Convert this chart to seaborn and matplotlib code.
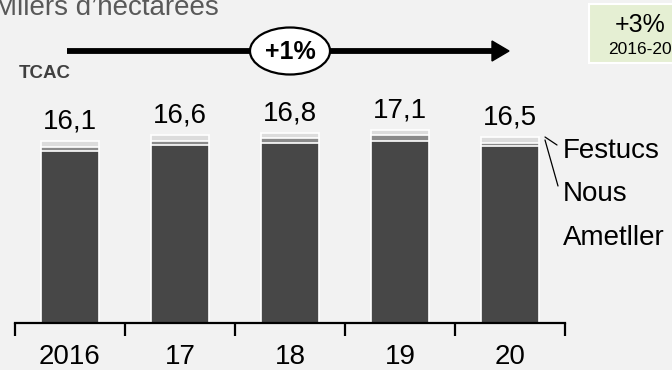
import numpy as np
import pandas as pd
import matplotlib
matplotlib.use("Agg")
import matplotlib.pyplot as plt
from matplotlib.patches import Ellipse, Rectangle, Polygon
from matplotlib.lines import Line2D
import seaborn as sns

# Surface in thousands of hectares, stacked by producer
years = ["2016", "17", "18", "19", "20"]
ametller = [15.2, 15.75, 15.9, 16.1, 15.7]
nous = [0.35, 0.4, 0.45, 0.5, 0.2]
festucs = [0.55, 0.45, 0.45, 0.5, 0.6]
series_names = ["Festucs", "Nous", "Ametller"]
cagr_label = "+1%"
total_change = "+3%"
total_period = "2016-20"

BG = "#f2f2f2"
sns.set_theme(style="white")
plt.rcParams["font.family"] = ["Liberation Sans", "DejaVu Sans"]

W, H = 672, 370
fig = plt.figure(figsize=(W / 100, H / 100), dpi=100, facecolor=BG)

def fx(px):
    return px / W

def fy(py):
    return 1 - py / H

ax = fig.add_axes([fx(15), fy(323), fx(565) - fx(15), fy(0) - fy(323)])
ax.set_facecolor(BG)

df = pd.DataFrame({"year": years, "Ametller": ametller, "Nous": nous, "Festucs": festucs})
df["lvl2"] = df["Ametller"] + df["Nous"]
df["total"] = df["lvl2"] + df["Festucs"]

layers = [("total", "#dcdcdc"), ("lvl2", "#8a8a8a"), ("Ametller", "#474747")]
for col, color in layers:
    sns.barplot(data=df, x="year", y=col, color=color, width=0.53,
                edgecolor="white", linewidth=1.2, saturation=1, ax=ax, zorder=2)

for i, tot in enumerate(df["total"]):
    ax.annotate(f"{tot:.1f}".replace(".", ","), (i, tot), xytext=(0, 9),
                textcoords="offset points", ha="center", va="baseline",
                fontsize=20, color="#000000")

ax.set_xlim(-0.5, 4.5)
ax.set_ylim(0, 323 / 11.3)
for s in ["top", "right", "left"]:
    ax.spines[s].set_visible(False)
ax.spines["bottom"].set_color("black")
ax.spines["bottom"].set_linewidth(1.6)
ax.set_yticks([])
ax.set_xticks(np.arange(-0.5, 5, 1))
ax.set_xticklabels([])
ax.tick_params(axis="x", which="major", direction="out", length=9, width=1.6,
               color="black", bottom=True)
ax.set_xticks(np.arange(len(years)), minor=True)
ax.set_xticklabels(years, minor=True, fontsize=20)
ax.tick_params(axis="x", which="minor", length=0, pad=15, labelcolor="black")
ax.set_xlabel("")
ax.set_ylabel("")

# Series labels with leader lines
fig.text(fx(563), fy(158), series_names[0], fontsize=20, color="black", va="baseline")
fig.text(fx(563), fy(201), series_names[1], fontsize=20, color="black", va="baseline")
fig.text(fx(563), fy(245), series_names[2], fontsize=20, color="black", va="baseline")
fig.add_artist(Line2D([fx(545), fx(557)], [fy(137), fy(145)], color="black", lw=0.9))
fig.add_artist(Line2D([fx(545), fx(558)], [fy(140), fy(186)], color="black", lw=0.9))

# Header
fig.text(fx(-6), fy(8), "Milers d\u2019hectarees", fontsize=20, color="#595959", va="center")
fig.text(fx(19), fy(74), "TCAC", fontsize=13.5, fontweight="bold", color="#404040", va="center")

# Growth arrow with CAGR bubble
fig.add_artist(Line2D([fx(67), fx(495)], [fy(51), fy(51)], color="black", lw=4.2,
                      solid_capstyle="butt", zorder=2))
fig.add_artist(Polygon(
    [[fx(492), fy(41)], [fx(509), fy(51)], [fx(492), fy(61)]],
    closed=True, facecolor="black", edgecolor="black", transform=fig.transFigure, zorder=2))
fig.add_artist(Ellipse((fx(290), fy(51)), fx(80), fy(0) - fy(47),
                       facecolor="white", edgecolor="black", lw=1.6,
                       transform=fig.transFigure, zorder=3))
fig.text(fx(290), fy(52), cagr_label, fontsize=18, fontweight="bold",
         ha="center", va="center", color="black", zorder=4)

# Total change box
fig.add_artist(Rectangle((fx(589), fy(63)), fx(110), fy(4) - fy(63),
                         facecolor="#e5efd3", edgecolor="white", lw=1.5,
                         transform=fig.transFigure))
fig.text(fx(640), fy(25), total_change, fontsize=18, ha="center", va="center", color="black")
fig.text(fx(640), fy(50), total_period, fontsize=12.5, ha="center", va="center", color="black")

fig.savefig("out.png", dpi=100, facecolor=BG)
